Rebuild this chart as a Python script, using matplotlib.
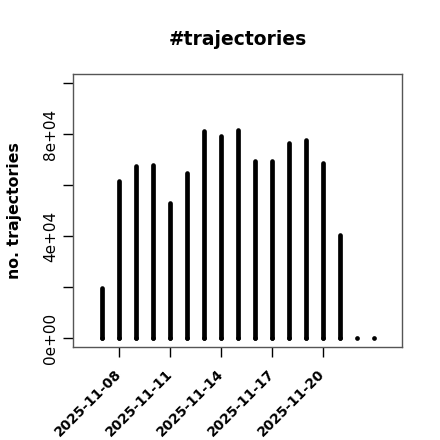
import numpy as np
import matplotlib
matplotlib.use("Agg")
import matplotlib.pyplot as plt
import matplotlib.dates as mdates

# daily counts
days = ["2025-11-07", "2025-11-08", "2025-11-09", "2025-11-10", "2025-11-11",
        "2025-11-12", "2025-11-13", "2025-11-14", "2025-11-15", "2025-11-16",
        "2025-11-17", "2025-11-18", "2025-11-19", "2025-11-20", "2025-11-21",
        "2025-11-22", "2025-11-23"]
counts = [19600, 61700, 67600, 68000, 53200,
          64700, 81300, 79300, 81600, 69600,
          69600, 76700, 77800, 68700, 40500,
          0, 0]
xtick_days = ["2025-11-08", "2025-11-11", "2025-11-14", "2025-11-17", "2025-11-20"]
ytick_vals = [0, 20000, 40000, 60000, 80000, 100000]
ytick_labels = ["0e+00", "", "4e+04", "", "8e+04", ""]

dates = np.array(days, dtype="datetime64[D]")
x = mdates.date2num(dates)

fig = plt.figure(figsize=(4.4, 4.4), dpi=100)
ax = fig.add_axes([0.166, 0.212, 0.748, 0.62])

ax.vlines(x, 0, counts, colors="black", linewidth=3.4, capstyle="round")
ax.plot(x, np.zeros(len(x)), "o", color="black", ms=3.4, mew=0)

ax.set_xlim(mdates.date2num(np.datetime64("2025-11-05")) + 0.27,
            mdates.date2num(np.datetime64("2025-11-24")) + 0.68)
ax.set_ylim(-3300, 103600)

xt = mdates.date2num(np.array(xtick_days, dtype="datetime64[D]"))
ax.set_xticks(xt)
ax.set_xticklabels(xtick_days, rotation=45, ha="right", va="center",
                   rotation_mode="anchor", fontweight="bold", fontsize=9.9)
ax.set_yticks(ytick_vals)
ax.set_yticklabels(ytick_labels, rotation=90, va="center", fontsize=11)
ax.tick_params(length=7, width=1, color="black", pad=4)
ax.tick_params(axis="x", pad=11)

for s in ax.spines.values():
    s.set_color("#555555")
    s.set_linewidth(1)

ax.set_title("#trajectories", fontweight="bold", fontsize=13.5, pad=21)
ax.set_ylabel("no. trajectories", fontweight="bold", fontsize=11.3, labelpad=15)

fig.savefig("out.png", dpi=100)
